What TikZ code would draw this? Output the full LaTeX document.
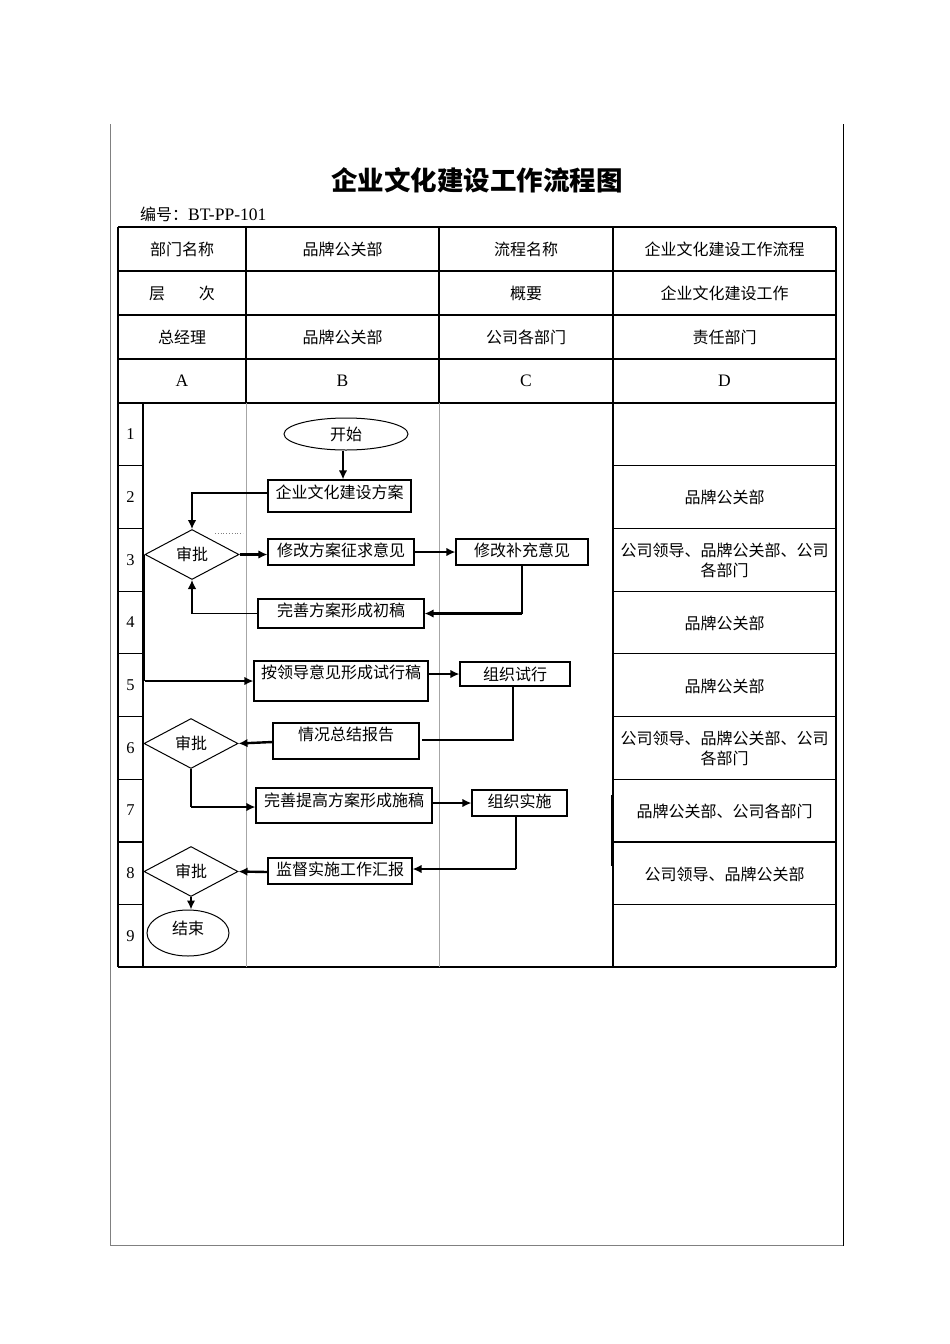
\documentclass[tikz,border=0pt]{standalone}
\usepackage{fontspec}
\setmainfont{Liberation Serif}
\newfontfamily\cjk{Noto Sans CJK SC}
\usetikzlibrary{arrows.meta,shapes.geometric,positioning,calc}

\begin{document}
\begin{tikzpicture}[
	x=1pt,y=-1pt,
	rule/.style={line width=1.2pt},
	lane/.style={gray!70,line width=0.8pt},
	cell/.style={font=\cjk\fontsize{16}{20}\selectfont,align=center,inner sep=0pt},
	procbox/.style={draw,rectangle,line width=1.1pt,inner xsep=2pt,inner ysep=0pt,text height=13pt,text depth=1pt,font=\cjk\fontsize{16}{18}\selectfont},
	term/.style={draw,ellipse,line width=1pt,inner sep=1pt,text height=13pt,text depth=1pt,font=\cjk\fontsize{16}{18}\selectfont},
	check/.style={draw,diamond,line width=1pt,inner sep=1pt,minimum width=94pt,minimum height=37pt,text height=13pt,text depth=1pt,font=\cjk\fontsize{16}{18}\selectfont},
	link/.style={line width=1.3pt},
	heavy/.style={line width=2.4pt},
	arr/.style={-{Latex[length=9pt,width=8.5pt]}}
	]
	\useasboundingbox (0,0) rectangle (950,1344);
	
	% cornice
	\draw[gray,line width=1.3pt] (110.5,124) -- (110.5,1245.5) -- (843.5,1245.5);
	\draw[line width=1.3pt] (843.5,124) -- (843.5,1246);
	
	\node[font=\cjk\bfseries\fontsize{26.5}{30}\selectfont] (title) at (477,180) {企业文化建设工作流程图};
	\node[anchor=west,inner sep=0pt,font=\fontsize{17.5}{18}\selectfont] (code) at (140,214) {{\cjk\fontsize{16}{18}\selectfont 编号：}BT-PP-101};
	
	% tabella
	\foreach \y in {227,271,315,359,403,967} \draw[rule] (118,\y) -- (836,\y);
	\foreach \x in {118,143,613,836} \draw[rule] (\x,{\x==143 ? 403 : 227}) -- (\x,967);
	\foreach \x in {246,439} {
		\draw[rule] (\x,227) -- (\x,403);
		\draw[lane] (\x,403) -- (\x,967);
	}
	\foreach \k in {1,...,8} {
		\draw[rule] (118,{403+62.7*\k}) -- (143,{403+62.7*\k});
		\draw[rule] (613,{403+62.7*\k}) -- (836,{403+62.7*\k});
	}
	\draw[line width=1.6pt] (611.6,795) -- (611.6,866);
	\foreach \k in {1,...,9}
		\node[font=\fontsize{16.5}{18}\selectfont] (row\k) at (130.5,{403+62.7*(\k-0.5)}) {\k};
	
	\node[cell] (deptname) at (182,249) {部门名称};
	\node[cell] (dept) at (342.5,249) {品牌公关部};
	\node[cell] (procname) at (526,249) {流程名称};
	\node[cell] (proc) at (724.5,249) {企业文化建设工作流程};
	\node[cell] (level) at (182,293) {层\hspace{2.1em}次};
	\node[cell] (summary) at (526,293) {概要};
	\node[cell] (summaryv) at (724.5,293) {企业文化建设工作};
	\node[cell] (gm) at (182,337) {总经理};
	\node[cell] (brand) at (342.5,337) {品牌公关部};
	\node[cell] (depts) at (526,337) {公司各部门};
	\node[cell] (resp) at (724.5,337) {责任部门};
	\node[font=\fontsize{17.5}{18}\selectfont] (colA) at (182,381) {A};
	\node[font=\fontsize{17.5}{18}\selectfont] (colB) at (342.5,381) {B};
	\node[font=\fontsize{17.5}{18}\selectfont] (colC) at (526,381) {C};
	\node[font=\fontsize{17.5}{18}\selectfont] (colD) at (724.5,381) {D};
	
	\node[cell] (resp2) at (724.5,497.5) {品牌公关部};
	\node[cell] (resp3) at (724.5,560) {公司领导、品牌公关部、公司\\各部门};
	\node[cell] (resp4) at (724.5,623) {品牌公关部};
	\node[cell] (resp5) at (724.5,686) {品牌公关部};
	\node[cell] (resp6) at (724.5,748.5) {公司领导、品牌公关部、公司\\各部门};
	\node[cell] (resp7) at (724.5,811) {品牌公关部、公司各部门};
	\node[cell] (resp8) at (724.5,874) {公司领导、品牌公关部};
	
	% flusso
	\node[term,minimum width=124pt,minimum height=32pt] (start) at (346,434) {开始};
	\node[procbox,minimum width=143pt,minimum height=32pt,text depth=8pt] (plan) at (339.5,496) {企业文化建设方案};
	\node[check] (approve1) at (192,554.5) {审批};
	\node[procbox,minimum width=146pt,minimum height=26pt,text depth=5pt] (consult) at (341,552) {修改方案征求意见};
	\node[procbox,minimum width=132pt,minimum height=26pt,text depth=5pt] (supplement) at (522,552) {修改补充意见};
	\node[procbox,minimum width=166pt,minimum height=29pt,text depth=7pt] (draft) at (341,613.5) {完善方案形成初稿};
	\node[procbox,minimum width=174pt,minimum height=40pt,text depth=18pt] (trial) at (341,681) {按领导意见形成试行稿};
	\node[procbox,minimum width=110pt,minimum height=24pt] (runtrial) at (515,674) {组织试行};
	\node[procbox,minimum width=146pt,minimum height=36pt,text depth=15pt] (report) at (346,741) {情况总结报告};
	\node[check] (approve2) at (191,743.5) {审批};
	\node[procbox,minimum width=176pt,minimum height=35pt,text depth=12pt] (final) at (344,805.5) {完善提高方案形成施稿};
	\node[procbox,minimum width=95pt,minimum height=26pt,text depth=5pt] (implement) at (519.5,803) {组织实施};
	\node[procbox,minimum width=144pt,minimum height=26pt,text depth=5pt] (supervise) at (340,871) {监督实施工作汇报};
	\node[check] (approve3) at (191,871.5) {审批};
	\node[term,minimum width=82pt,minimum height=46pt,text depth=11pt] (finish) at (188,933) {结束};
	
	\draw[gray,dotted,line width=0.8pt] (215,533) -- (243,533);
	
	% frecce
	\draw[heavy,arr] (start.south -| 343,0) -- (plan.north -| 343,0);
	\draw[link,arr] ([yshift=3pt]plan.west) -| (approve1.north);
	\draw[heavy,arr] (approve1.east) -- (approve1.east -| consult.west);
	\draw[heavy,arr] (consult.east) -- (supplement.west);
	\draw[link] (supplement.south) -- (supplement.south |- draft.east);
	\draw[heavy,arr] (supplement.south |- draft.east) -- (draft.east);
	\draw[link,arr] (draft.west) -| (approve1.south);
	\draw[link] (approve1.west) -- (approve1.west |- trial.west);
	\draw[heavy,arr] (approve1.west |- trial.west) -- (trial.west);
	\draw[heavy,arr] (trial.east |- runtrial.west) -- (runtrial.west);
	\coordinate (reportin) at ([xshift=2pt,yshift=1pt]report.east);
	\draw[link] ([xshift=-2pt]runtrial.south) |- (reportin);
	\draw[heavy,arr] ([yshift=-1pt]report.west) -- (approve2.east);
	\draw[link] (approve2.south) -- (approve2.south |- 0,807);
	\draw[heavy,arr] (approve2.south |- 0,807) -- (final.west |- 0,807);
	\draw[heavy,arr] ([yshift=2.5pt]final.east) -- (implement.west |- 0,803);
	\draw[link] ([xshift=-3.5pt]implement.south) -- ([xshift=-3.5pt]implement.south |- 0,869);
	\draw[heavy,arr] ([xshift=-3.5pt]implement.south |- 0,869) -- (supervise.east |- 0,869);
	\draw[heavy,arr] ([yshift=-1pt]supervise.west) -- (approve3.east);
	\draw[heavy,arr] (approve3.south) -- (approve3.south |- finish.north);
\end{tikzpicture}
\end{document}
